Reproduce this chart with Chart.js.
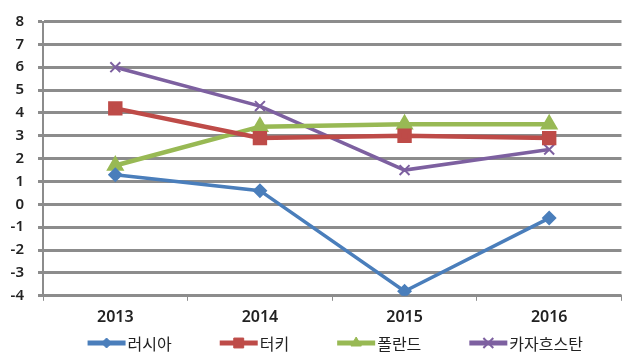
<!DOCTYPE html>
<html>
<head>
<meta charset="utf-8">
<script src="https://cdn.jsdelivr.net/npm/chart.js@4"></script>
<style>
  html, body { margin: 0; padding: 0; background: #fff; }
  #wrap { width: 633px; height: 355px; }
</style>
</head>
<body>
<div id="wrap"><canvas id="lineChart"></canvas></div>
<script>
const years      = ['2013', '2014', '2015', '2016'];
const russia     = [1.3, 0.6, -3.8, -0.6];
const turkey     = [4.2, 2.9, 3.0, 2.9];
const poland     = [1.7, 3.4, 3.5, 3.5];
const kazakhstan = [6.0, 4.3, 1.5, 2.4];

const tickFont   = { family: "'Noto Sans', 'DejaVu Sans', sans-serif", size: 16, weight: '600' };
const yTickFont  = { family: "'Noto Sans', 'DejaVu Sans', sans-serif", size: 15, weight: '600', lineHeight: 1 };
const legendFont = "16px 'Noto Sans CJK KR', sans-serif";

// Excel-style legend: line sample with the marker in the middle, then the label
const lineLegend = {
  id: 'lineLegend',
  afterDraw(chart) {
    const { ctx, chartArea } = chart;
    const sampleW = 38, textGap = 2, itemGap = 48, y = 343;
    ctx.save();
    ctx.font = legendFont;
    const items = chart.data.datasets.map((ds) => ({ ds, w: sampleW + textGap + ctx.measureText(ds.label).width }));
    const total = items.reduce((s, it) => s + it.w, 0) + itemGap * (items.length - 1);
    let x = (chartArea.left + chartArea.right) / 2 - total / 2 + 3;
    items.forEach(({ ds, w }) => {
      ctx.strokeStyle = ds.borderColor;
      ctx.fillStyle = ds.backgroundColor;
      ctx.lineWidth = 5;
      ctx.beginPath();
      ctx.moveTo(x, y);
      ctx.lineTo(x + sampleW, y);
      ctx.stroke();
      if (Chart.helpers && Chart.helpers.drawPoint) {
        ctx.lineWidth = ds.pointBorderWidth || 1;
        Chart.helpers.drawPoint(ctx, { pointStyle: ds.pointStyle, radius: ds.pointRadius, borderWidth: ds.pointBorderWidth || 1, rotation: 0 }, x + sampleW / 2, y);
      }
      ctx.fillStyle = '#222';
      ctx.textBaseline = 'middle';
      ctx.textAlign = 'left';
      ctx.fillText(ds.label, x + sampleW + textGap, y + 1);
      x += w + itemGap;
    });
    ctx.restore();
  },
};

const ctx = document.getElementById('lineChart').getContext('2d');
new Chart(ctx, {
  type: 'line',
  data: {
    labels: years,
    datasets: [
      { label: '러시아',     data: russia,     borderColor: '#4a7ebb', backgroundColor: '#4a7ebb', pointStyle: 'rectRot',  pointRadius: 5, borderWidth: 3.5 },
      { label: '터키',       data: turkey,     borderColor: '#be4b48', backgroundColor: '#be4b48', pointStyle: 'rect',     pointRadius: 7, borderWidth: 4.5 },
      { label: '폴란드',     data: poland,     borderColor: '#98b954', backgroundColor: '#98b954', pointStyle: 'triangle', pointRadius: 6, borderWidth: 4.5 },
      { label: '카자흐스탄', data: kazakhstan, borderColor: '#7d60a0', backgroundColor: '#7d60a0', pointStyle: 'crossRot', pointRadius: 7, borderWidth: 3.5, pointBorderWidth: 2 },
    ],
  },
  plugins: [lineLegend],
  options: {
    responsive: true,
    maintainAspectRatio: false,
    animation: false,
    layout: { padding: { top: 0, right: 5, left: 0, bottom: 21 } },
    plugins: {
      legend: { display: false },
      tooltip: { enabled: false },
    },
    scales: {
      y: {
        min: -4, max: 8,
        afterFit: (scale) => { scale.width = 43; },
        ticks: { stepSize: 1, autoSkip: false, font: yTickFont, color: '#222', padding: 14 },
        grid: { color: '#8c8c8c', lineWidth: 3, tickLength: 5 },
        border: { color: '#8c8c8c', width: 2 },
      },
      x: {
        offset: true,
        ticks: { font: tickFont, color: '#222', padding: 7 },
        grid: { offset: true, drawOnChartArea: false, tickLength: 5, color: '#8c8c8c' },
        border: { color: '#8c8c8c', width: 2 },
      },
    },
  },
});
</script>
</body>
</html>
